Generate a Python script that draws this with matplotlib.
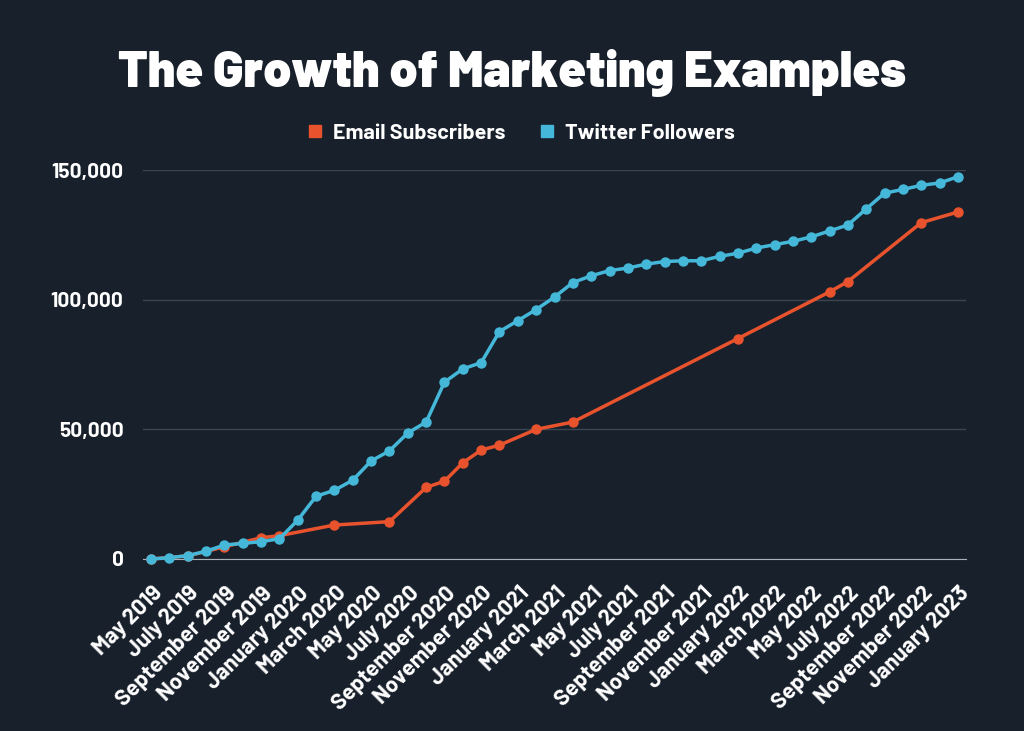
import matplotlib
matplotlib.use("Agg")
import matplotlib.pyplot as plt
import matplotlib.transforms as mtransforms
from matplotlib.lines import Line2D
import numpy as np

plt.rcParams['font.family'] = ['Barlow', 'Inter', 'DejaVu Sans']

month_names = ['January', 'February', 'March', 'April', 'May', 'June', 'July',
               'August', 'September', 'October', 'November', 'December']
# May 2019 .. January 2023
months = []
for k in range(45):
    m = (4 + k) % 12
    y = 2019 + (4 + k) // 12
    months.append(f'{month_names[m]} {y}')

twitter = [0, 500, 1300, 3000, 5400, 6000, 6700, 7800, 15000, 24200,
           26500, 30400, 37800, 41700, 48600, 52800, 68200, 73300, 75700, 87700,
           91900, 96200, 101000, 106600, 109200, 111200, 112200, 113700, 114700, 115000,
           115000, 116700, 117900, 119900, 121200, 122500, 124200, 126500, 128800, 135000,
           141100, 142500, 144100, 145000, 147400]

email_idx = [0, 2, 4, 6, 7, 10, 13, 15, 16, 17, 18, 19, 21, 23, 32, 37, 38, 42, 44]
email = [0, 1200, 4700, 8200, 9000, 13100, 14400, 27600, 30000, 37100,
         42000, 43900, 50000, 52800, 85000, 103000, 107000, 129700, 133800]

bg = '#18202b'
blue = '#45b8d9'
orange = '#e8532e'

fig = plt.figure(figsize=(10.24, 7.31), dpi=100, facecolor=bg)
ax = fig.add_axes([143/1024, 1-559/731, (966-143)/1024, (559-170)/731])
ax.set_facecolor(bg)

x = np.arange(len(months))
ax.plot(email_idx, email, color=orange, lw=2.5, marker='o', ms=6.5, label='Email Subscribers',
        clip_on=False, zorder=3)
ax.plot(x, twitter, color=blue, lw=2.5, marker='o', ms=6.5, label='Twitter Followers',
        clip_on=False, zorder=4)

ax.set_xlim(-0.44, 44.44)
ax.set_ylim(0, 150000)
ax.set_yticks([0, 50000, 100000, 150000])
ax.set_yticklabels([f'{v:,}' for v in [0, 50000, 100000, 150000]])
ax.set_xticks(x[::2])
ax.set_xticklabels(months[::2], rotation=45, ha='right', va='center', rotation_mode='anchor')

ax.grid(axis='y', color='#3b4552', lw=1)
ax.set_axisbelow(True)
for s in ['top', 'right', 'left']:
    ax.spines[s].set_visible(False)
ax.spines['bottom'].set_color('#aab0b8')
ax.tick_params(axis='both', length=0, colors='white')
ax.tick_params(axis='y', pad=14, labelsize=15)
ax.tick_params(axis='x', pad=0, labelsize=16)
shift = mtransforms.ScaledTranslation(8/100, -31/100, fig.dpi_scale_trans)
for lbl in ax.get_xticklabels():
    lbl.set_transform(lbl.get_transform() + shift)
for lbl in ax.get_xticklabels() + ax.get_yticklabels():
    lbl.set_fontweight('bold')

fig.text(0.5, 1-87/731, 'The Growth of Marketing Examples', ha='center', va='baseline',
         color='white', fontsize=36, fontweight='black')

handles = [Line2D([], [], ls='', marker='s', ms=8, color=orange),
           Line2D([], [], ls='', marker='s', ms=8, color=blue)]
leg = fig.legend(handles, ['Email Subscribers', 'Twitter Followers'], loc='center',
                 bbox_to_anchor=(0.5 + 8.5/1024, 1-133/731), ncol=2, frameon=False,
                 fontsize=15.5, handletextpad=0.45, columnspacing=1.5, handlelength=0.8)
for t in leg.get_texts():
    t.set_color('white')
    t.set_fontweight('bold')

fig.savefig('out.png', dpi=100, facecolor=bg)
